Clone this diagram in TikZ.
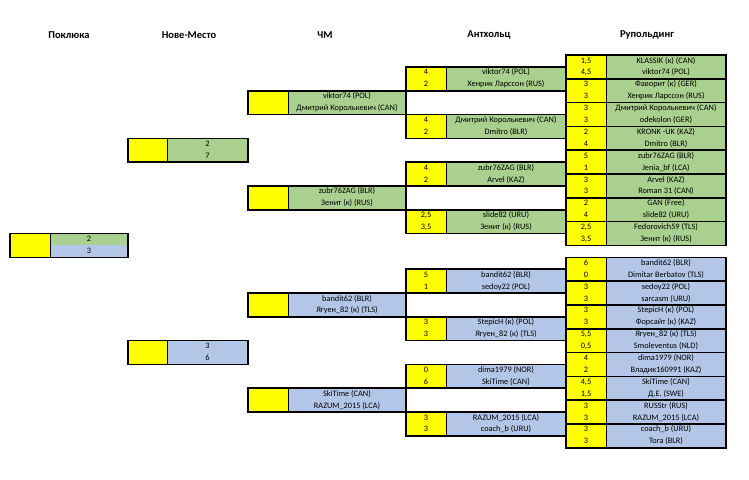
\documentclass[tikz,border=0pt]{standalone}
\usepackage{fontspec}
\setmainfont{Carlito}

\definecolor{grn}{HTML}{A9D08E}
\definecolor{blu}{HTML}{B4C6E7}
\definecolor{ylw}{HTML}{FFFF00}

% column edges: yellow start, divider, end
\def\xPa{10}  \def\xPb{50}  \def\xPc{128}
\def\xNa{128} \def\xNb{167} \def\xNc{248}
\def\xCa{248} \def\xCb{288} \def\xCc{406}
\def\xAa{406} \def\xAb{446} \def\xAc{566}
\def\xRa{566} \def\xRb{606} \def\xRc{726}

\tikzset{
  score/.style={font=\fontsize{8.3}{9}\selectfont, inner sep=0pt, text height=5.8pt, text depth=1.6pt},
  player/.style={score},
  head/.style={font=\fontsize{10.5}{12}\selectfont\bfseries, inner sep=0pt},
  divider/.style={line width=1pt},
  frame/.style={line width=1.6pt},
}

% #1 name, #2 column, #3 first row, #4/#5 fills, #6/#7 scores, #8/#9 players
\newcommand{\matchbox}[9]{%
  \pgfmathsetmacro{\yt}{55+11.9*#3}%
  \pgfmathsetmacro{\ym}{\yt+11.9}%
  \pgfmathsetmacro{\yb}{\yt+23.8}%
  \edef\xa{\csname x#2a\endcsname}%
  \edef\xb{\csname x#2b\endcsname}%
  \edef\xc{\csname x#2c\endcsname}%
  \fill[ylw] (\xa,\yt) rectangle (\xb,\yb);
  \fill[#4] (\xb,\yt) rectangle (\xc,\ym);
  \fill[#5] (\xb,\ym) rectangle (\xc,\yb);
  \node[score] (#1s1) at ({(\xa+\xb)/2},{(\yt+\ym)/2}) {#6};
  \node[score] (#1s2) at ({(\xa+\xb)/2},{(\ym+\yb)/2}) {#7};
  \node[player] (#1p1) at ({(\xb+\xc)/2},{(\yt+\ym)/2}) {#8};
  \node[player] (#1p2) at ({(\xb+\xc)/2},{(\ym+\yb)/2}) {#9};
  \draw[divider] (\xb,\yt) -- (\xb,\yb);
  \draw[frame] (\xa,\yt) rectangle (\xc,\yb);
}

\begin{document}
\begin{tikzpicture}[x=1pt, y=-1pt]
  \useasboundingbox[fill=white] (0,0) rectangle (749,479);

  % stage titles
  \node[head] (hpok) at (69,35) {Поклюка};
  \node[head] (hnm) at (189,35) {Нове-Место};
  \node[head] (hcm) at (325,35) {ЧМ};
  \node[head] (hant) at (489,35) {Антхольц};
  \node[head] (hrup) at (647,35) {Рупольдинг};

  % Рупольдинг
  \matchbox{ru1}{R}{0}{grn}{grn}{1,5}{4,5}{KLASSIK (к) (CAN)}{viktor74 (POL)}
  \matchbox{ru2}{R}{2}{grn}{grn}{3}{3}{Фаворит (к) (GER)}{Хенрик Ларссон (RUS)}
  \matchbox{ru3}{R}{4}{grn}{grn}{3}{3}{Дмитрий Королькевич (CAN)}{odekolon (GER)}
  \matchbox{ru4}{R}{6}{grn}{grn}{2}{4}{KRONK -UK (KAZ)}{Dmitro (BLR)}
  \matchbox{ru5}{R}{8}{grn}{grn}{5}{1}{zubr76ZAG (BLR)}{Jenia\_bf (LCA)}
  \matchbox{ru6}{R}{10}{grn}{grn}{3}{3}{Arvel (KAZ)}{Roman 31 (CAN)}
  \matchbox{ru7}{R}{12}{grn}{grn}{2}{4}{GAN (Free)}{slide82 (URU)}
  \matchbox{ru8}{R}{14}{grn}{grn}{2,5}{3,5}{Fedorovich59 (TLS)}{Зенит (к) (RUS)}
  \matchbox{ru9}{R}{17}{blu}{blu}{6}{0}{bandit62 (BLR)}{Dimitar Berbatov (TLS)}
  \matchbox{ru10}{R}{19}{blu}{blu}{3}{3}{sedoy22 (POL)}{sarcasm (URU)}
  \matchbox{ru11}{R}{21}{blu}{blu}{3}{3}{StepicH (к) (POL)}{Форсайт (к) (KAZ)}
  \matchbox{ru12}{R}{23}{blu}{blu}{5,5}{0,5}{Ягуен\_82 (к) (TLS)}{Smoleventus (NLD)}
  \matchbox{ru13}{R}{25}{blu}{blu}{4}{2}{dima1979 (NOR)}{Владик160991 (KAZ)}
  \matchbox{ru14}{R}{27}{blu}{blu}{4,5}{1,5}{SkiTime (CAN)}{Д.Е. (SWE)}
  \matchbox{ru15}{R}{29}{blu}{blu}{3}{3}{RUSStr (RUS)}{RAZUM\_2015 (LCA)}
  \matchbox{ru16}{R}{31}{blu}{blu}{3}{3}{coach\_b (URU)}{Tora (BLR)}

  % Антхольц
  \matchbox{an1}{A}{1}{grn}{grn}{4}{2}{viktor74 (POL)}{Хенрик Ларссон (RUS)}
  \matchbox{an2}{A}{5}{grn}{grn}{4}{2}{Дмитрий Королькевич (CAN)}{Dmitro (BLR)}
  \matchbox{an3}{A}{9}{grn}{grn}{4}{2}{zubr76ZAG (BLR)}{Arvel (KAZ)}
  \matchbox{an4}{A}{13}{grn}{grn}{2,5}{3,5}{slide82 (URU)}{Зенит (к) (RUS)}
  \matchbox{an5}{A}{18}{blu}{blu}{5}{1}{bandit62 (BLR)}{sedoy22 (POL)}
  \matchbox{an6}{A}{22}{blu}{blu}{3}{3}{StepicH (к) (POL)}{Ягуен\_82 (к) (TLS)}
  \matchbox{an7}{A}{26}{blu}{blu}{0}{6}{dima1979 (NOR)}{SkiTime (CAN)}
  \matchbox{an8}{A}{30}{blu}{blu}{3}{3}{RAZUM\_2015 (LCA)}{coach\_b (URU)}

  % ЧМ
  \matchbox{cm1}{C}{3}{grn}{grn}{}{}{viktor74 (POL)}{Дмитрий Королькевич (CAN)}
  \matchbox{cm2}{C}{11}{grn}{grn}{}{}{zubr76ZAG (BLR)}{Зенит (к) (RUS)}
  \matchbox{cm3}{C}{20}{blu}{blu}{}{}{bandit62 (BLR)}{Ягуен\_82 (к) (TLS)}
  \matchbox{cm4}{C}{28}{blu}{blu}{}{}{SkiTime (CAN)}{RAZUM\_2015 (LCA)}

  % Нове-Место
  \matchbox{nm1}{N}{7}{grn}{grn}{}{}{2}{7}
  \matchbox{nm2}{N}{24}{blu}{blu}{}{}{3}{6}

  % Поклюка
  \matchbox{po1}{P}{15}{grn}{blu}{}{}{2}{3}
\end{tikzpicture}
\end{document}
